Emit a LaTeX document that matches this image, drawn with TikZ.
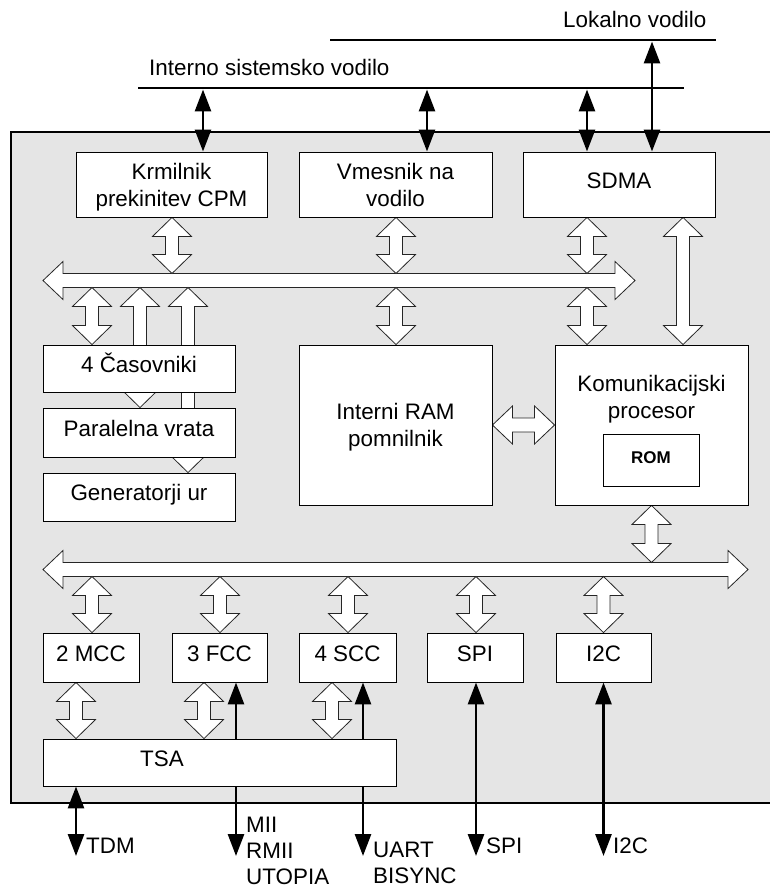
\documentclass[tikz,border=0pt]{standalone}
\usepackage{fontspec}
\setmainfont{Liberation Sans}
\usetikzlibrary{arrows.meta,calc}

\definecolor{panel}{gray}{0.9}
\pgfdeclarelayer{chip}
\pgfdeclarelayer{links}
\pgfsetlayers{chip,links,main}

% hollow double arrow, vertical: #1 = x, #2 = upper end, #3 = lower end
\newcommand\hollowv[3]{%
  \draw[hollow] let \p1=#2, \p2=#3 in
    (#1pt,\y1) -- ++(19.5pt,-19pt) -- ++(-13pt,0pt)
    -- ({#1pt+6.5pt},{\y2+19pt}) -- ++(13pt,0pt)
    -- (#1pt,\y2) -- ++(-19.5pt,19pt) -- ++(13pt,0pt)
    -- ({#1pt-6.5pt},{\y1-19pt}) -- ++(-13pt,0pt) -- cycle;}
% hollow double arrow, horizontal: #1 = left end, #2 = right end
\newcommand\hollowh[2]{%
  \draw[hollow] let \p1=#1, \p2=#2 in
    (\x1,\y1) -- ++(20pt,19pt) -- ++(0pt,-12pt)
    -- ({\x2-20pt},{\y1+7pt}) -- ++(0pt,12pt)
    -- (\x2,\y1) -- ++(-20pt,-19pt) -- ++(0pt,12pt)
    -- ({\x1+20pt},{\y1-7pt}) -- ++(0pt,-12pt) -- cycle;}

\tikzset{
  hollow/.style={draw=black!85, fill=white, line width=0.8pt, line join=miter},
  box/.style={draw=black, fill=white, line width=0.9pt, inner sep=0pt,
    align=center, text depth=0pt, font=\fontsize{22.4pt}{27pt}\selectfont},
  one/.style={text height=0.72em},
  busline/.style={line width=2.8pt},
  sig/.style={line width=2.8pt, >={Triangle[length=22pt,width=16pt]}},
  lblm/.style={inner sep=0pt, text depth=0pt, align=left,
    font=\fontsize{22.4pt}{26pt}\selectfont},
  lbl/.style={lblm, text height=0.72em},
}

\begin{document}
\begin{tikzpicture}[x=1pt, y=-1pt]
\useasboundingbox (0,0) rectangle (770,888);

% chip outline
\begin{pgfonlayer}{chip}
\fill[panel] (11,132) rectangle (772,803);
\draw[line width=1.4pt] (772,132) -- (11,132) -- (11,803) -- (772,803);
\end{pgfonlayer}

% external buses
\coordinate (lokL) at (330,40);  \coordinate (lokR) at (716,40);
\coordinate (intL) at (138,88);  \coordinate (intR) at (684,88);
\draw[busline] (lokL) -- (lokR);
\draw[busline] (intL) -- (intR);
\node[lbl, anchor=west] (loktxt) at (563,24) {Lokalno vodilo};
\node[lbl, anchor=west] (inttxt) at (149,72) {Interno sistemsko vodilo};

% blocks
\node[box, minimum width=191pt, minimum height=65pt] (krm) at (171.5,184.5) {Krmilnik\\prekinitev CPM};
\node[box, minimum width=193pt, minimum height=65pt] (vme) at (395.5,184.5) {Vmesnik na\\vodilo};
\node[box, one, minimum width=192pt, minimum height=65pt] (sdma) at (619,184.5) {SDMA};

\node[box, one, minimum width=192pt, minimum height=47pt] (cas) at (139,368.5) {4 Časovniki};
\node[box, one, minimum width=192pt, minimum height=49pt] (par) at (139,432.5) {Paralelna vrata};
\node[box, one, minimum width=192pt, minimum height=48pt] (gen) at (139,497) {Generatorji ur};
\node[box, minimum width=193pt, minimum height=160pt] (ram) at (395.5,425) {Interni RAM\\pomnilnik};
\node[box, minimum width=193pt, minimum height=160pt] (kp) at (651.5,425) {};
\node[box, draw=none, fill=none] (kptxt) at (651.5,396.5) {Komunikacijski\\procesor};
\node[box, one, minimum width=96pt, minimum height=52pt,
  font=\fontsize{17pt}{20pt}\selectfont\bfseries] (rom) at (651,460) {ROM};

\node[box, one, minimum width=96pt, minimum height=49pt] (mcc) at (91,657.5) {2 MCC};
\node[box, one, minimum width=95pt, minimum height=49pt] (fcc) at (219.5,657.5) {3 FCC};
\node[box, one, minimum width=97pt, minimum height=49pt] (scc) at (347.5,657.5) {4 SCC};
\node[box, one, minimum width=96pt, minimum height=49pt] (spi) at (475,657.5) {SPI};
\node[box, one, minimum width=95pt, minimum height=49pt] (iic) at (603.5,657.5) {I2C};
\node[box, minimum width=353pt, minimum height=47pt] (tsa) at (219.5,762.5) {};
\node[lbl] (tsatxt) at (162,762.5) {TSA};

% internal buses and hollow links, kept underneath the blocks
\begin{pgfonlayer}{links}
\coordinate (busAL) at (43,280.5);  \coordinate (busAR) at (635,280.5);
\coordinate (busBL) at (43,569.5);  \coordinate (busBR) at (748,569.5);
\hollowh{(busAL)}{(busAR)}
\hollowh{(busBL)}{(busBR)}

\hollowv{172}{(krm.south)}{(0,273.5)}
\hollowv{396}{(vme.south)}{(0,273.5)}
\hollowv{587}{(sdma.south)}{(0,273.5)}
\hollowv{683}{(sdma.south)}{(kp.north)}
\hollowv{92}{(0,287.5)}{(cas.north)}
\hollowv{140}{(0,287.5)}{(par.north)}
\hollowv{188}{(0,287.5)}{(gen.north)}
\hollowv{396}{(0,287.5)}{(ram.north)}
\hollowv{587}{(0,287.5)}{(kp.north)}
\hollowh{(ram.east)}{(kp.west)}
\hollowv{651.5}{(kp.south)}{(0,562.5)}

\hollowv{92}{(0,576.5)}{(mcc.north)}
\hollowv{220}{(0,576.5)}{(fcc.north)}
\hollowv{348}{(0,576.5)}{(scc.north)}
\hollowv{476}{(0,576.5)}{(spi.north)}
\hollowv{603.5}{(0,576.5)}{(iic.north)}
\hollowv{76}{(mcc.south)}{(tsa.north)}
\hollowv{204}{(fcc.south)}{(tsa.north)}
\hollowv{332}{(scc.south)}{(tsa.north)}

% serial lines passing under the TSA block
\coordinate (miiEnd) at (236,856);
\coordinate (uartEnd) at (363,856);
\draw[sig, <->] (miiEnd) -- (miiEnd |- fcc.south);
\draw[sig, <->] (uartEnd) -- (uartEnd |- scc.south);
\end{pgfonlayer}

% bus interface lines
\draw[sig, <->] (203,89.5) -- (krm.north -| 203,0);
\draw[sig, <->] (427,89.5) -- (vme.north -| 427,0);
\draw[sig, <->] (587,89.5) -- (sdma.north -| 587,0);
\draw[sig, <->] (652,41.5) -- (sdma.north -| 652,0);

% external pins
\coordinate (tdmEnd) at (76,856);
\coordinate (spiEnd) at (476,856);
\coordinate (iicEnd) at (603.5,856);
\draw[sig, <->] (tdmEnd |- tsa.south) -- (tdmEnd);
\draw[sig, <->] (spi.south -| spiEnd) -- (spiEnd);
\draw[sig, <->] (iic.south) -- (iicEnd);

\node[lbl, anchor=west] (tdmtxt) at (86,850) {TDM};
\node[lblm, anchor=north west] (miitxt) at (246,817.2) {MII\\RMII\\UTOPIA};
\node[lblm, anchor=north west] (uarttxt) at (373,842.2) {UART\\BISYNC};
\node[lbl, anchor=west] (spitxt) at (486,850) {SPI};
\node[lbl, anchor=west] (iictxt) at (613,850) {I2C};
\end{tikzpicture}
\end{document}
